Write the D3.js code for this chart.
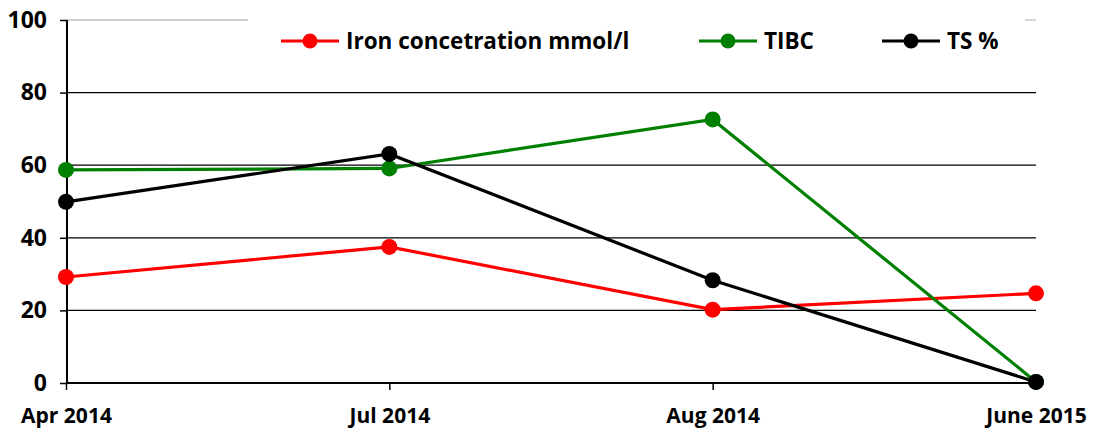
<!DOCTYPE html>
<html><head><meta charset="utf-8">
<script src="https://cdn.jsdelivr.net/npm/d3@7"></script>
<style>body{margin:0;background:#fff}text{font-family:"Open Sans",sans-serif;font-weight:bold;fill:#000}</style>
</head><body><svg id="c" width="1093" height="430"></svg>
<script>
const categories = ["Apr 2014","Jul 2014","Aug 2014","June 2015"];
const iron = [29.2, 37.5, 20.2, 24.7];
const tibc = [58.7, 59.1, 72.6, 0.3];
const ts = [49.9, 63.1, 28.3, 0.3];
const yTicks = [0,20,40,60,80,100];
const seriesNames = ["Iron concetration mmol/l","TIBC","TS %"];
const colors = ["#ff0000","#008000","#000000"];
const FONT = "Open Sans";

const svg = d3.select("#c");
const x = d3.scalePoint().domain(categories).range([66,1036]);
const y = d3.scaleLinear().domain([0,100]).range([383,20]);

svg.append("g").selectAll("line").data(yTicks.filter(d=>d>0&&d<100)).join("line")
  .attr("x1",66).attr("x2",1036).attr("y1",d=>y(d)).attr("y2",d=>y(d))
  .attr("stroke","#000").attr("stroke-width",1.3);
svg.append("line").attr("x1",66).attr("x2",248).attr("y1",y(100)).attr("y2",y(100)).attr("stroke","#c0c0c0").attr("stroke-width",1.3);
svg.append("line").attr("x1",1025).attr("x2",1036).attr("y1",y(100)).attr("y2",y(100)).attr("stroke","#c0c0c0").attr("stroke-width",1.3);

const ya = svg.append("g").attr("transform","translate(67,0)")
  .call(d3.axisLeft(y).tickValues(yTicks).tickSize(7).tickPadding(13));
ya.select(".domain").attr("stroke","#000").attr("stroke-width",2).attr("d","M0,"+y(100)+"V"+y(0));
ya.selectAll(".tick line").attr("stroke","#000").attr("stroke-width",1.5);
ya.selectAll("text").attr("font-size",23).attr("font-family",FONT).attr("font-weight","bold").attr("fill","#000");

const xa = svg.append("g").attr("transform","translate(0,"+y(0)+")")
  .call(d3.axisBottom(x).tickSize(7).tickPadding(18));
xa.select(".domain").attr("stroke","#000").attr("stroke-width",2).attr("d","M66,0H1036");
xa.selectAll(".tick line").attr("stroke","#000").attr("stroke-width",1.5);
xa.selectAll("text").attr("font-size",21).attr("font-family",FONT).attr("font-weight","bold").attr("fill","#000");

const data = [iron, tibc, ts];
const line = d3.line().x((d,i)=>x(categories[i])).y(d=>y(d));
data.forEach((s,k)=>{
  svg.append("path").datum(s).attr("d",line).attr("fill","none").attr("stroke",colors[k]).attr("stroke-width",3.2);
});
data.forEach((s,k)=>{
  svg.append("g").selectAll("circle").data(s).join("circle")
    .attr("cx",(d,i)=>x(categories[i])).attr("cy",d=>y(d)).attr("r",8).attr("fill",colors[k]);
});

const legX = [281, 699, 882];
const legY = 41;
seriesNames.forEach((n,k)=>{
  const g = svg.append("g");
  g.append("line").attr("x1",legX[k]).attr("x2",legX[k]+58).attr("y1",legY).attr("y2",legY).attr("stroke",colors[k]).attr("stroke-width",3.2);
  g.append("circle").attr("cx",legX[k]+29).attr("cy",legY).attr("r",7.5).attr("fill",colors[k]);
  g.append("text").attr("x",legX[k]+65).attr("y",legY).attr("dy","0.36em").attr("font-size",22.5).attr("font-family",FONT).text(n);
});
</script></body></html>
